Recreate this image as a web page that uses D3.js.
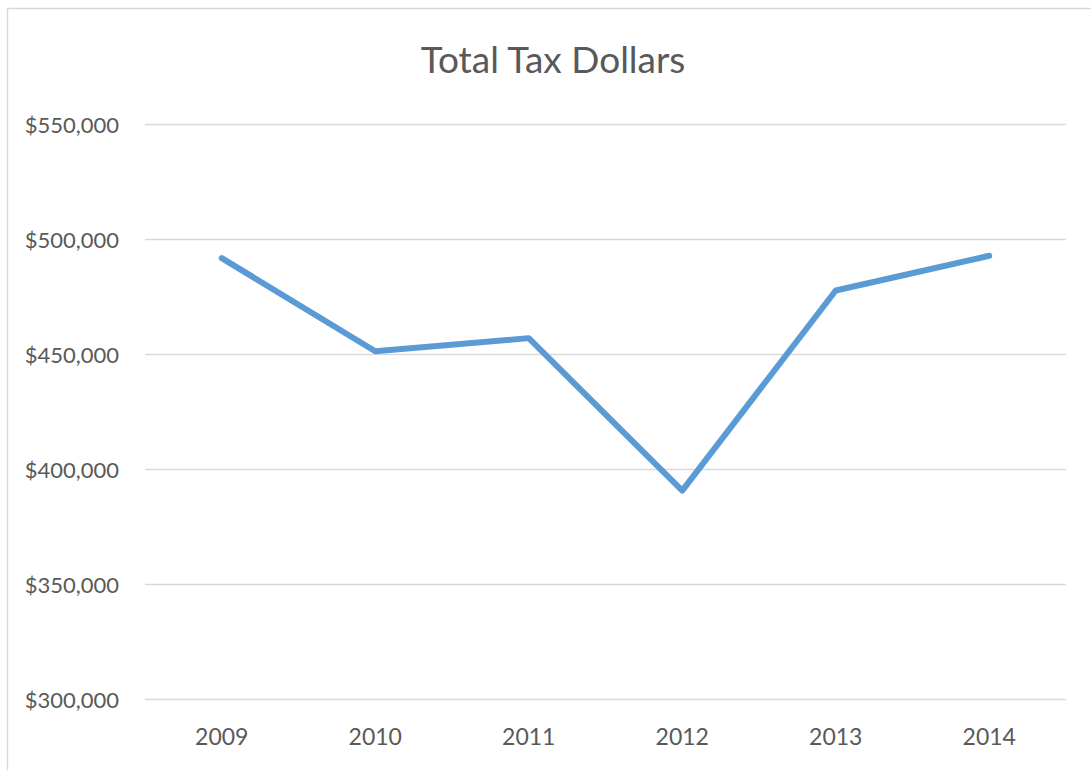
<!DOCTYPE html>
<html>
<head>
<meta charset="utf-8">
<script src="https://cdn.jsdelivr.net/npm/d3@7"></script>
<style>
  body { margin: 0; background: #fff; }
  svg { display: block; }
  .text { font-family: Lato, "Open Sans", sans-serif; fill: #595959; }
</style>
</head>
<body>
<div id="chart"></div>
<script>
// --------------------------------------
//  Data
// --------------------------------------

const years = ["2009", "2010", "2011", "2012", "2013", "2014"];
const taxDollars = [491700, 451200, 456900, 390600, 477600, 492700];
const yTicks = [300000, 350000, 400000, 450000, 500000, 550000];
const chartTitle = "Total Tax Dollars";

// --------------------------------------
//  Margin and canvas
// --------------------------------------

const width = 1091;
const height = 770;
const margin = {top: 124, right: 25, bottom: 71, left: 145};
const innerwidth = width - margin.left - margin.right;
const innerheight = height - margin.top - margin.bottom;

const svg = d3.select("#chart")
  .append("svg")
    .attr("width", width)
    .attr("height", height);

// chart frame, runs off the right and bottom of the picture
svg.append("rect")
    .attr("x", 7.5)
    .attr("y", 8.5)
    .attr("width", 1100)
    .attr("height", 800)
    .attr("fill", "#fff")
    .attr("stroke", "#d9d9d9")
    .attr("stroke-width", 1.5);

const inner = svg.append("g")
    .attr("transform", `translate(${margin.left}, ${margin.top})`);

// --------------------------------------
//  Scales
// --------------------------------------

const x = d3.scaleBand()
    .domain(years)
    .range([0, innerwidth]);

const y = d3.scaleLinear()
    .domain([300000, 550000])
    .range([innerheight, 0]);

// --------------------------------------
//  Axes and grid
// --------------------------------------

const yAxis = inner.append("g")
    .call(d3.axisLeft(y)
      .tickValues(yTicks)
      .tickSize(-innerwidth)
      .tickPadding(26)
      .tickFormat(d => "$" + d3.format(",")(d)));

yAxis.select(".domain").remove();
yAxis.selectAll(".tick line")
    .attr("stroke", "#d9d9d9")
    .attr("stroke-width", 1.3);
yAxis.selectAll(".tick text")
    .attr("class", "text")
    .attr("font-size", 22)
    .attr("dy", "0.38em");

const xAxis = inner.append("g")
    .attr("transform", `translate(0, ${innerheight})`)
    .call(d3.axisBottom(x).tickSize(0).tickPadding(30));

xAxis.select(".domain").remove();
xAxis.selectAll(".tick text")
    .attr("class", "text")
    .attr("font-size", 23);

// --------------------------------------
//  Line
// --------------------------------------

const line = d3.line()
    .x((d, i) => x(years[i]) + x.bandwidth() / 2)
    .y(d => y(d));

inner.append("path")
    .attr("d", line(taxDollars))
    .attr("fill", "none")
    .attr("stroke", "#5b9bd5")
    .attr("stroke-width", 6)
    .attr("stroke-linejoin", "round")
    .attr("stroke-linecap", "round");

// --------------------------------------
//  Title
// --------------------------------------

svg.append("text")
    .attr("class", "text")
    .attr("x", 553)
    .attr("y", 73)
    .attr("text-anchor", "middle")
    .attr("font-size", 37)
    .text(chartTitle);
</script>
</body>
</html>
